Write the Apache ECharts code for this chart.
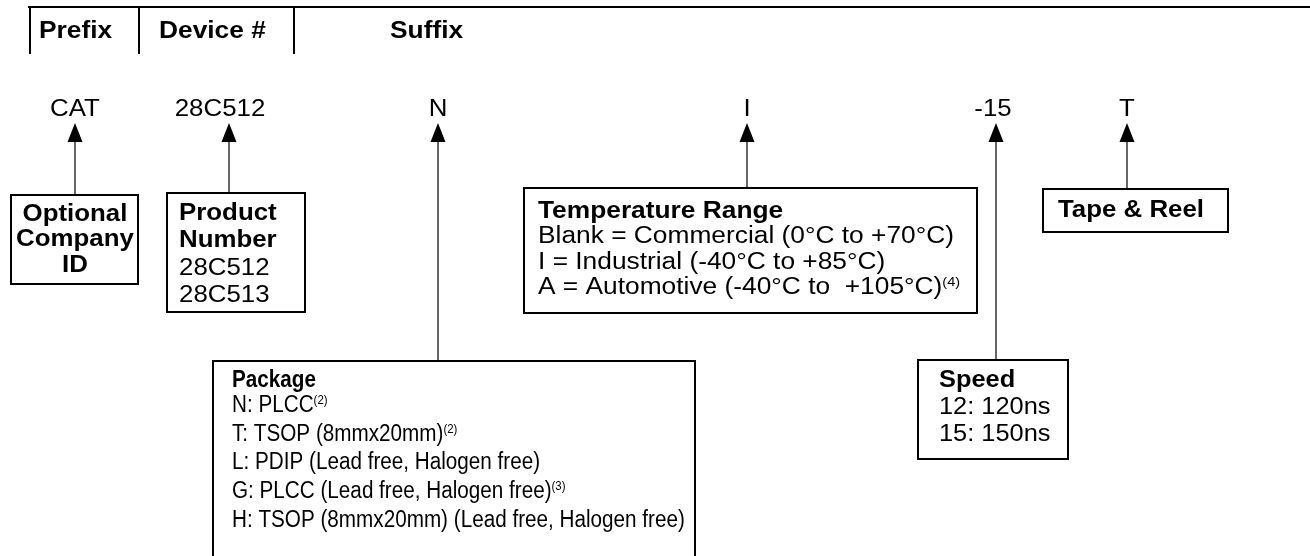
<!DOCTYPE html>
<html>
<head>
<meta charset="utf-8">
<script src="https://cdn.jsdelivr.net/npm/echarts@6/dist/echarts.min.js"></script>
<style>
  html, body { margin: 0; padding: 0; background: #fff; }
  #main { width: 1310px; height: 556px; }
</style>
</head>
<body>
<div id="main"></div>
<script>
// texts of the ordering-information diagram
const headerLabels = ['Prefix', 'Device #', 'Suffix']
const codeLabels = ['CAT', '28C512', 'N', 'I', '-15', 'T']
const companyLines = ['Optional', 'Company', 'ID']
const productLines = ['Product', 'Number', '28C512', '28C513']
const tempLines = [
  'Temperature Range',
  'Blank = Commercial (0°C to +70°C)',
  'I = Industrial (-40°C to +85°C)',
  'A = Automotive (-40°C to  +105°C){sup|(4)}'
]
const tapeLines = ['Tape & Reel']
const speedLines = ['Speed', '12: 120ns', '15: 150ns']
const packageLines = [
  'Package',
  'N: PLCC{sup|(2)}',
  'T: TSOP (8mmx20mm){sup|(2)}',
  'L: PDIP (Lead free, Halogen free)',
  'G: PLCC (Lead free, Halogen free){sup|(3)}',
  'H: TSOP (8mmx20mm) (Lead free, Halogen free)'
]

// layout (pixels)
const FONT = '"Liberation Sans", Arial, Helvetica, sans-serif'
const FS = 23.5
const codeX = [75, 220, 438, 747, 993, 1127]
const arrowX = [75, 229, 438, 747, 996, 1127]
const boxes = [
  { lines: companyLines, rect: [11, 195, 127, 89], tx: 75, align: 'center', ys: [215, 240, 266], sx: 1.1, boldN: 3 },
  { lines: productLines, rect: [167, 193, 138, 119], tx: 179, align: 'left', ys: [214, 241, 269, 296], sx: 1.1, boldN: 2 },
  { lines: tempLines, rect: [524, 188, 453, 125], tx: 538, align: 'left', ys: [212, 237, 263, 288], sx: 1.12, boldN: 1 },
  { lines: tapeLines, rect: [1043, 189, 185, 43], tx: 1058, align: 'left', ys: [211], sx: 1.1, boldN: 1 },
  { lines: speedLines, rect: [918, 360, 150, 99], tx: 939, align: 'left', ys: [381, 408, 435], sx: 1.08, boldN: 1 },
  { lines: packageLines, rect: [213, 361, 482, 240], tx: 232, align: 'left', ys: [381, 406, 435, 463, 492, 521], sx: 0.88, boldN: 1 }
]
// box each arrow runs down to
const arrowEnd = [195, 193, 361, 188, 360, 189]

const els = []

function line(x1, y1, x2, y2, w) {
  els.push({ type: 'line', shape: { x1, y1, x2, y2 }, style: { stroke: '#000', lineWidth: w } })
}

function text(str, x, y, sx, bold, align) {
  els.push({
    type: 'text', x: x, y: y, scaleX: sx, originX: 0, originY: 0,
    style: {
      text: str, x: 0, y: 0, fill: '#000',
      fontSize: FS, fontFamily: FONT, fontWeight: bold ? 'bold' : 'normal',
      align: align, textAlign: align, verticalAlign: 'middle', textVerticalAlign: 'middle',
      lineHeight: 24,
      rich: {
        sup: { fontSize: 13, lineHeight: 12, verticalAlign: 'top', fontFamily: FONT, fill: '#000' }
      }
    }
  })
}

// header bar
line(28, 7, 1310, 7, 2)
;[30, 139, 294].forEach(x => line(x, 7, x, 54, 2))
const headerX = [39, 159, 390]
headerLabels.forEach((t, i) => text(t, headerX[i], 32, 1.12, true, 'left'))

// part number codes with arrows
codeLabels.forEach((t, i) => {
  text(t, codeX[i], 110, 1.1, false, 'center')
  const x = arrowX[i]
  els.push({
    type: 'polygon',
    shape: { points: [[x, 123], [x - 7.5, 142], [x + 7.5, 142]] },
    style: { fill: '#000' }
  })
  line(x, 140, x, arrowEnd[i], 1.2)
})

// description boxes
boxes.forEach(b => {
  const [x, y, w, h] = b.rect
  els.push({
    type: 'rect', shape: { x, y, width: w, height: h },
    style: { fill: '#fff', stroke: '#000', lineWidth: 2 }
  })
  b.lines.forEach((t, i) => text(t, b.tx, b.ys[i], b.sx, i < b.boldN, b.align))
})

const chart = echarts.init(document.getElementById('main'))
chart.setOption({
  backgroundColor: '#fff',
  animation: false,
  graphic: { elements: els }
})
</script>
</body>
</html>
